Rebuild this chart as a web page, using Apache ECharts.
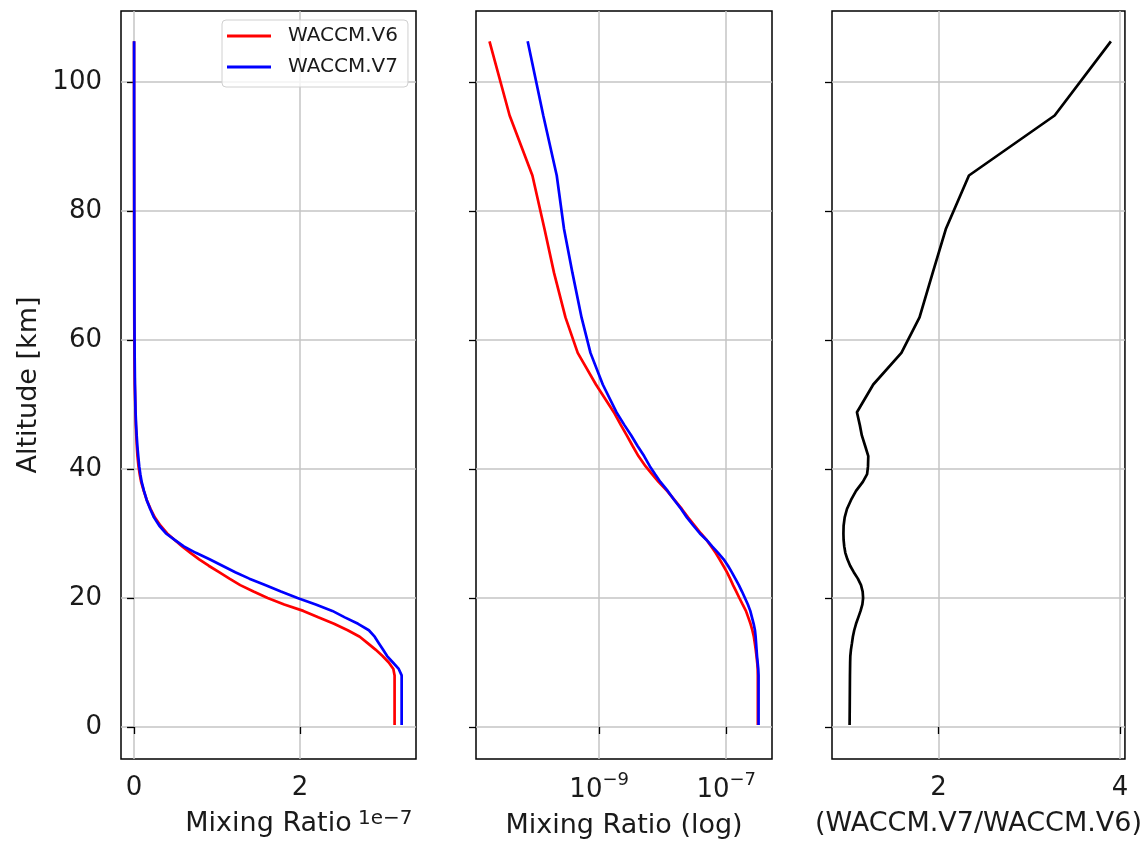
<!DOCTYPE html>
<html>
<head>
<meta charset="utf-8">
<title>WACCM V6 vs V7 profiles</title>
<script src="https://cdn.jsdelivr.net/npm/echarts@6/dist/echarts.min.js"></script>
<style>
  html, body { margin: 0; padding: 0; background: #fff; }
  #chart { width: 1145px; height: 845px; }
</style>
</head>
<body>
<div id="chart"></div>
<script>
// Model levels (km)
const altitude = [
  0.3, 2.0, 4.0, 6.0, 8.0, 9.0, 10.0, 11.0, 12.0, 13.0,
  14.0, 15.0, 16.0, 17.0, 18.0, 19.0, 20.0, 21.0, 22.0, 23.0,
  24.0, 25.0, 26.0, 27.0, 28.0, 29.0, 30.0, 31.2, 32.5, 33.8,
  35.2, 36.6, 38.0, 39.2, 40.4, 42.0, 43.6, 45.2, 46.8, 48.8,
  53.1, 58.0, 63.5, 70.4, 77.2, 85.5, 94.8, 106.3
];

// Mixing ratio profile, WACCM.V6
const waccmV6 = [
  3.14e-7, 3.14e-7, 3.14e-7, 3.14e-7, 3.14e-7, 3.125e-7, 3.07e-7, 2.995e-7, 2.91e-7, 2.815e-7,
  2.72e-7, 2.575e-7, 2.41e-7, 2.22e-7, 2.04e-7, 1.81e-7, 1.61e-7, 1.44e-7, 1.28e-7, 1.15e-7,
  1.025e-7, 9.0e-8, 7.85e-8, 6.8e-8, 5.8e-8, 4.9e-8, 4.0e-8, 3.2e-8, 2.5e-8, 2.0e-8,
  1.53e-8, 1.17e-8, 8.6e-9, 6.8e-9, 5.4e-9, 4.15e-9, 3.35e-9, 2.72e-9, 2.2e-9, 1.7e-9,
  8.9e-10, 4.6e-10, 2.95e-10, 1.95e-10, 1.38e-10, 8.9e-11, 3.9e-11, 1.88e-11
];

// Mixing ratio profile, WACCM.V7
const waccmV7 = [
  3.225e-7, 3.225e-7, 3.225e-7, 3.225e-7, 3.225e-7, 3.19e-7, 3.12e-7, 3.05e-7, 3.0e-7, 2.95e-7,
  2.9e-7, 2.83e-7, 2.7e-7, 2.54e-7, 2.39e-7, 2.19e-7, 1.97e-7, 1.77e-7, 1.58e-7, 1.39e-7,
  1.22e-7, 1.065e-7, 9.1e-8, 7.45e-8, 6.0e-8, 4.9e-8, 3.85e-8, 3.05e-8, 2.4e-8, 1.95e-8,
  1.52e-8, 1.2e-8, 9.2e-9, 7.6e-9, 6.3e-9, 5.1e-9, 4.0e-9, 3.2e-9, 2.5e-9, 1.87e-9,
  1.14e-9, 7.3e-10, 5.28e-10, 3.8e-10, 2.8e-10, 2.15e-10, 1.32e-10, 7.5e-11
];

// Ratio WACCM.V7 / WACCM.V6
const ratioV7V6 = [
  1.019, 1.020, 1.021, 1.022, 1.023, 1.024, 1.025, 1.027, 1.034, 1.045,
  1.055, 1.070, 1.090, 1.115, 1.140, 1.160, 1.168, 1.163, 1.145, 1.110,
  1.065, 1.025, 0.995, 0.972, 0.960, 0.953, 0.951, 0.953, 0.965, 0.990,
  1.035, 1.090, 1.165, 1.212, 1.222, 1.225, 1.190, 1.154, 1.132, 1.100,
  1.280, 1.590, 1.790, 1.935, 2.080, 2.335, 3.280, 3.900
];

// Tick positions
const altitudeTicks = [0, 20, 40, 60, 80, 100];
const linearTicks = [0, 2e-7];
const logTicks = [1e-9, 1e-7];
const ratioTicks = [2, 4];

const FONT = 'DejaVu Sans';
const TEXT = '#1a1a1a';
const TICK_SIZE = 26;
const NAME_SIZE = 27;
const GRID_LINE = { color: '#c4c4c4', width: 1.5 };
const TICK = { show: true, length: 7, inside: false, lineStyle: { color: '#000', width: 1.3 } };

const pairs = (xs) => xs.map((x, i) => [x, altitude[i]]);

const panels = [
  { left: 121, width: 295 },
  { left: 476, width: 296 },
  { left: 832, width: 296 }
];

const grids = panels.map(p => ({
  left: p.left, top: 11, width: p.width, height: 748,
  show: true, borderColor: '#000', borderWidth: 1.5, backgroundColor: 'transparent'
}));

const yAxes = panels.map((p, i) => ({
  type: 'value', gridIndex: i, min: -4.96, max: 111.0,
  name: i === 0 ? 'Altitude [km]' : '',
  nameLocation: 'middle', nameGap: 79, nameRotate: 90,
  nameTextStyle: { fontFamily: FONT, fontSize: NAME_SIZE, color: TEXT },
  axisLine: { show: false },
  axisTick: Object.assign({ customValues: altitudeTicks }, TICK),
  axisLabel: {
    show: i === 0, customValues: altitudeTicks, margin: 19,
    fontFamily: FONT, fontSize: TICK_SIZE, color: TEXT
  },
  splitLine: { show: true, lineStyle: GRID_LINE }
}));

const xAxes = [
  {
    type: 'value', gridIndex: 0, min: -0.157e-7, max: 3.398e-7,
    name: 'Mixing Ratio', nameLocation: 'middle', nameGap: 51,
    nameTextStyle: { fontFamily: FONT, fontSize: NAME_SIZE, color: TEXT },
    axisLine: { show: false },
    axisTick: Object.assign({ customValues: linearTicks }, TICK),
    axisLabel: {
      customValues: linearTicks, margin: 16, fontFamily: FONT, fontSize: TICK_SIZE, color: TEXT,
      formatter: v => String(Math.round(v * 1e7))
    },
    splitLine: { show: true, lineStyle: GRID_LINE }
  },
  {
    type: 'log', logBase: 10, gridIndex: 1, min: 1.153e-11, max: 5.25e-7,
    name: 'Mixing Ratio (log)', nameLocation: 'middle', nameGap: 53,
    nameTextStyle: { fontFamily: FONT, fontSize: NAME_SIZE, color: TEXT },
    axisLine: { show: false },
    axisTick: Object.assign({ customValues: logTicks }, TICK),
    axisLabel: {
      customValues: logTicks, margin: 12, color: TEXT,
      formatter: v => '{b|10}{s|\u2212' + (-Math.round(Math.log10(v))) + '}',
      rich: {
        b: { fontFamily: FONT, fontSize: TICK_SIZE, color: TEXT, padding: [6, 0, 0, 0] },
        s: { fontFamily: FONT, fontSize: 18, color: TEXT, verticalAlign: 'top' }
      }
    },
    splitLine: { show: true, lineStyle: GRID_LINE }
  },
  {
    type: 'value', gridIndex: 2, min: 0.825, max: 4.055,
    name: '(WACCM.V7/WACCM.V6)', nameLocation: 'middle', nameGap: 51,
    nameTextStyle: { fontFamily: FONT, fontSize: NAME_SIZE, color: TEXT },
    axisLine: { show: false },
    axisTick: Object.assign({ customValues: ratioTicks }, TICK),
    axisLabel: { customValues: ratioTicks, margin: 16, fontFamily: FONT, fontSize: TICK_SIZE, color: TEXT },
    splitLine: { show: true, lineStyle: GRID_LINE }
  }
];

const lineSeries = (name, data, color, idx) => ({
  name, type: 'line', xAxisIndex: idx, yAxisIndex: idx, data,
  showSymbol: false, symbol: 'none', smooth: false,
  lineStyle: { color, width: 2.7 }, itemStyle: { color },
  emphasis: { disabled: true }
});

const option = {
  animation: false,
  backgroundColor: '#fff',
  textStyle: { fontFamily: FONT },
  grid: grids,
  xAxis: xAxes,
  yAxis: yAxes,
  legend: {
    data: ['WACCM.V6', 'WACCM.V7'],
    orient: 'vertical', left: 222, top: 20,
    padding: [6, 10, 10, 5], itemGap: 11,
    icon: 'rect', itemWidth: 44, itemHeight: 3,
    backgroundColor: 'rgba(255,255,255,0.8)',
    borderColor: '#d0d0d0', borderWidth: 1, borderRadius: 4,
    textStyle: { fontFamily: FONT, fontSize: 20, color: TEXT, lineHeight: 20, padding: [0, 0, 0, 12] }
  },
  graphic: [
    { type: 'text', left: 358, top: 809, style: { text: '1e\u22127', font: '20px "DejaVu Sans"', fill: TEXT } }
  ],
  series: [
    lineSeries('WACCM.V6', pairs(waccmV6), '#ff0000', 0),
    lineSeries('WACCM.V7', pairs(waccmV7), '#0000ff', 0),
    lineSeries('WACCM.V6', pairs(waccmV6), '#ff0000', 1),
    lineSeries('WACCM.V7', pairs(waccmV7), '#0000ff', 1),
    lineSeries('V7/V6', pairs(ratioV7V6), '#000000', 2)
  ]
};

const chart = echarts.init(document.getElementById('chart'), null, { renderer: 'canvas' });
chart.setOption(option);
</script>
</body>
</html>
